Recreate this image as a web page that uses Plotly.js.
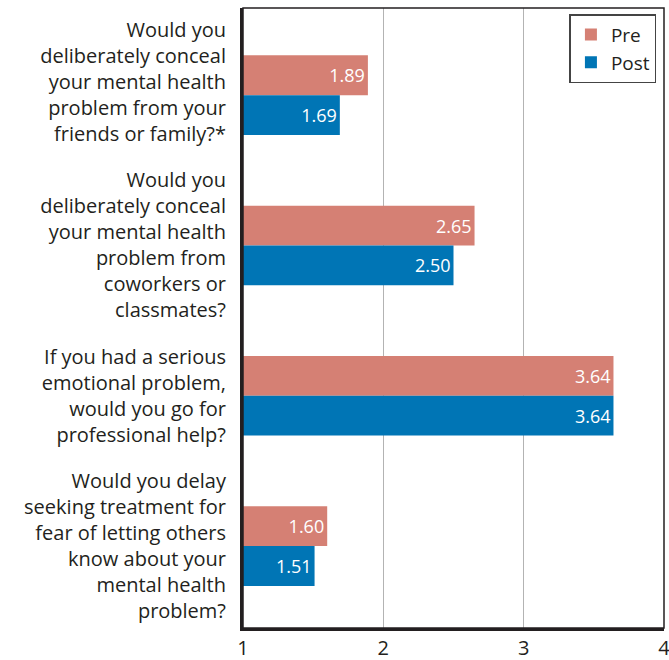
<!DOCTYPE html>
<html>
<head>
<meta charset="utf-8">
<script src="https://cdn.plot.ly/plotly-3.0.1.min.js"></script>
<style>html,body{margin:0;padding:0;background:#fff;}#chart{width:669px;height:660px;}</style>
</head>
<body>
<div id="chart"></div>
<script>
var categories = [
  "Would you<br>deliberately conceal<br>your mental health<br>problem from your<br>friends or family?*<br>&nbsp;",
  "Would you<br>deliberately conceal<br>your mental health<br>problem from<br>coworkers or<br>classmates?",
  "If you had a serious<br>emotional problem,<br>would you go for<br>professional help?",
  "Would you delay<br>seeking treatment for<br>fear of letting others<br>know about your<br>mental health<br>problem?"
];
var preValues = [1.89, 2.65, 3.64, 1.60];
var postValues = [1.69, 2.50, 3.64, 1.51];
var xTicks = [1, 2, 3, 4];

var FONT = "'Open Sans', 'Noto Sans', sans-serif";
var TXT = "#231f20";

var common = {
  type: 'bar', orientation: 'h', y: categories,
  textposition: 'inside', insidetextanchor: 'end',
  texttemplate: '%{x:.2f}',
  textfont: {color: '#ffffff', size: 18, family: FONT},
  constraintext: 'none', hoverinfo: 'x'
};
var traces = [
  Object.assign({}, common, {name: 'Pre', x: preValues, marker: {color: '#d58074'}}),
  Object.assign({}, common, {name: 'Post', x: postValues, marker: {color: '#0075b5'}})
];

var layout = {
  width: 669, height: 660,
  margin: {l: 243, r: 5, t: 8, b: 32},
  paper_bgcolor: '#ffffff', plot_bgcolor: '#ffffff',
  font: {family: FONT, color: TXT, size: 20},
  barmode: 'group', bargap: 0.47, bargroupgap: 0,
  showlegend: true,
  legend: {
    x: 0.982, xanchor: 'right', y: 0.99, yanchor: 'top',
    bordercolor: '#444444', borderwidth: 1.5, bgcolor: '#ffffff',
    font: {size: 19, family: FONT, color: TXT}, traceorder: 'normal',
    tracegroupgap: 0
  },
  xaxis: {
    range: [1, 4], tickvals: xTicks, ticktext: xTicks.map(String),
    showgrid: true, gridcolor: '#b3b3b3', gridwidth: 1.5,
    showline: true, linecolor: TXT, linewidth: 3,
    ticks: '', zeroline: false, fixedrange: true,
    ticklabeloverflow: 'allow',
    tickfont: {size: 20, color: TXT}
  },
  yaxis: {
    type: 'category', categoryorder: 'array', categoryarray: categories,
    range: [3.545, -0.58],
    showline: true, linecolor: TXT, linewidth: 3,
    showgrid: false, ticks: '', ticklabelstandoff: 10,
    tickfont: {size: 20, color: TXT}, fixedrange: true
  },
  shapes: [
    {type: 'rect', xref: 'paper', yref: 'paper', x0: 0, x1: 1, y0: 0, y1: 1,
     line: {color: TXT, width: 1.5}, fillcolor: 'rgba(0,0,0,0)', layer: 'above'}
  ]
};

Plotly.newPlot('chart', traces, layout, {displayModeBar: false, staticPlot: true});
</script>
</body>
</html>
